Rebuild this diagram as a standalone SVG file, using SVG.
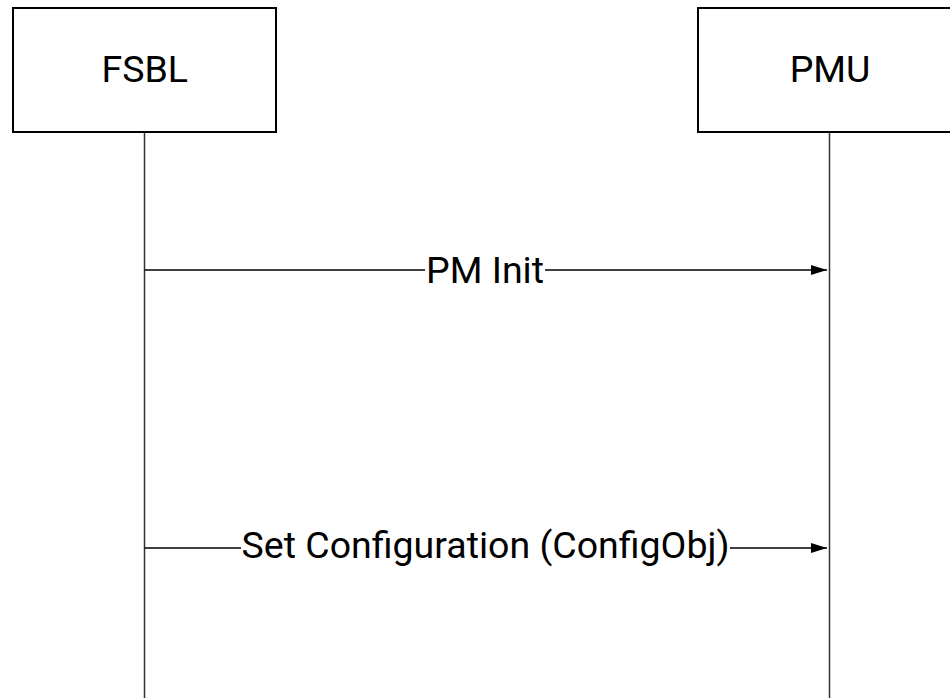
<svg xmlns="http://www.w3.org/2000/svg" width="950" height="698" viewBox="0 0 950 698">
<defs>
<style>
.box{fill:#fff;stroke:#000;stroke-width:2}
.life{stroke:#333;stroke-width:1.5;fill:none}
.msg{stroke:#000;stroke-width:1.5;fill:none}
.t{font-family:Roboto,"Liberation Sans",sans-serif;font-size:37.5px;fill:#000;text-anchor:middle}
.bg{fill:#fff}
</style>
<marker id="ah" viewBox="0 0 16 10" refX="16" refY="5" markerWidth="16" markerHeight="10" markerUnits="userSpaceOnUse" orient="auto">
<path d="M0,0 L16,5 L0,10 Z" fill="#000"/>
</marker>
</defs>
<rect width="950" height="698" fill="#fff"/>
<g id="lifelines">
<line class="life" x1="144.5" y1="132" x2="144.5" y2="698"/>
<line class="life" x1="829.5" y1="132" x2="829.5" y2="698"/>
</g>
<g id="FSBL">
<rect class="box" x="13" y="8" width="263" height="124"/>
<text class="t" x="144.7" y="82">FSBL</text>
</g>
<g id="PMU">
<rect class="box" x="698" y="8" width="263" height="124"/>
<text class="t" x="830" y="82">PMU</text>
</g>
<g id="connectors">
<line class="msg" x1="144.5" y1="270" x2="827" y2="270" marker-end="url(#ah)"/>
<rect class="bg" x="425" y="252" width="120" height="36"/>
<text class="t" x="485" y="282.5">PM Init</text>
<line class="msg" x1="144.5" y1="548" x2="827" y2="548" marker-end="url(#ah)"/>
<rect class="bg" x="241" y="530" width="489" height="36"/>
<text class="t" x="485.5" y="558">Set Configuration (ConfigObj)</text>
</g>
</svg>
